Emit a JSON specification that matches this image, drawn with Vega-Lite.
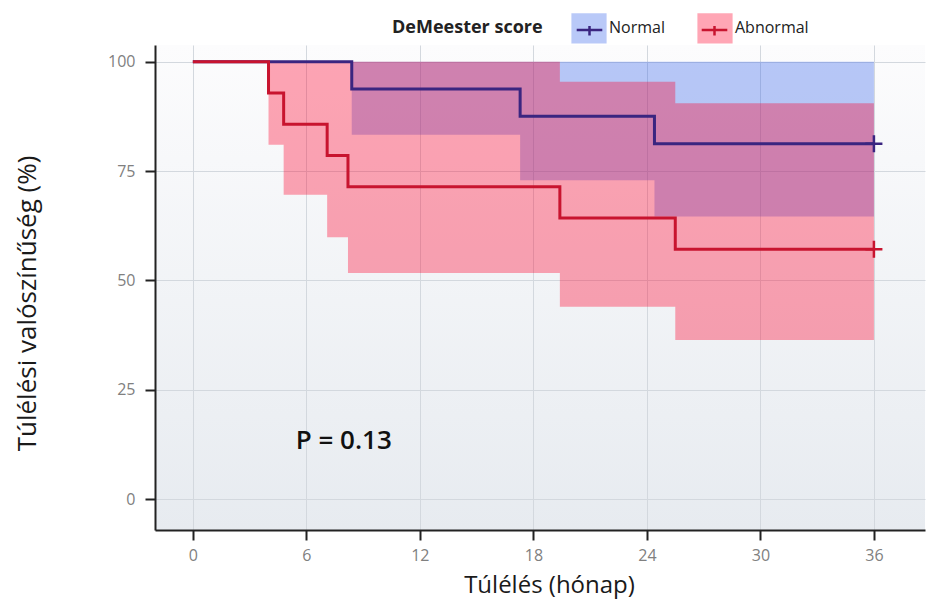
{
  "$schema": "https://vega.github.io/schema/vega-lite/v6.json",
  "autosize": {"type": "none"},
  "width": 770,
  "height": 485,
  "padding": {"left": 155, "top": 45, "right": 16, "bottom": 76},
  "background": "#ffffff",
  "config": {
    "view": {
      "stroke": null,
      "fill": {"gradient": "linear", "x1": 0, "y1": 0, "x2": 0, "y2": 1, "stops": [{"offset": 0, "color": "#fcfcfd"}, {"offset": 1, "color": "#e7ebf0"}]}
    },
    "font": "Open Sans",
    "axis": {
      "domainColor": "#222222",
      "domainWidth": 2,
      "tickColor": "#222222",
      "tickWidth": 2,
      "tickSize": 10,
      "labelFont": "Open Sans",
      "labelFontSize": 16,
      "labelColor": "#808080",
      "labelPadding": 10,
      "gridColor": "#d3d8de",
      "gridWidth": 1,
      "titleFont": "Open Sans",
      "titleFontWeight": "normal",
      "titleColor": "#1a1a1a"
    }
  },
  "datasets": {
    "km": [
      {"group": "Normal", "time": 0, "surv": 100, "lower": 100, "upper": 100},
      {"group": "Normal", "time": 8.4, "surv": 93.75, "lower": 83.3, "upper": 100},
      {"group": "Normal", "time": 17.3, "surv": 87.5, "lower": 72.9, "upper": 100},
      {"group": "Normal", "time": 24.4, "surv": 81.25, "lower": 64.6, "upper": 100},
      {"group": "Normal", "time": 36, "surv": 81.25, "lower": 64.6, "upper": 100},
      {"group": "Abnormal", "time": 0, "surv": 100, "lower": 100, "upper": 100},
      {"group": "Abnormal", "time": 4.0, "surv": 92.86, "lower": 81.0, "upper": 100},
      {"group": "Abnormal", "time": 4.8, "surv": 85.71, "lower": 69.6, "upper": 100},
      {"group": "Abnormal", "time": 7.1, "surv": 78.57, "lower": 59.9, "upper": 100},
      {"group": "Abnormal", "time": 8.2, "surv": 71.43, "lower": 51.7, "upper": 100},
      {"group": "Abnormal", "time": 19.4, "surv": 64.29, "lower": 44.0, "upper": 95.4},
      {"group": "Abnormal", "time": 25.5, "surv": 57.14, "lower": 36.4, "upper": 90.5},
      {"group": "Abnormal", "time": 36, "surv": 57.14, "lower": 36.4, "upper": 90.5}
    ],
    "note": [{"x": 5.44, "y": 13.4, "label": "P = 0.13"}]
  },
  "encoding": {
    "x": {
      "field": "time", "type": "quantitative",
      "scale": {"domain": [-2, 38.7], "nice": false, "zero": false},
      "axis": {"values": [0, 6, 12, 18, 24, 30, 36], "title": "Túlélés (hónap)", "labelPadding": 7, "titleFontSize": 24, "titleX": 394, "titleY": 55, "titleBaseline": "middle", "titleAlign": "center"}
    },
    "y": {
      "field": "surv", "type": "quantitative",
      "scale": {"domain": [-7, 103.8], "nice": false, "zero": false},
      "axis": {"values": [0, 25, 50, 75, 100], "title": "Túlélési valószínűség (%)", "titleFontSize": 26, "titleX": -128, "titleY": 258, "titleAngle": -90, "titleBaseline": "middle", "titleAlign": "center"}
    }
  },
  "layer": [
    {
      "data": {"name": "km"},
      "transform": [{"filter": "datum.group == 'Normal'"}],
      "mark": {"type": "area", "interpolate": "step-after", "opacity": 0.35},
      "encoding": {
        "y": {"field": "lower", "type": "quantitative"},
        "y2": {"field": "upper"},
        "fill": {
          "field": "group", "type": "nominal",
          "scale": {"domain": ["Normal", "Abnormal"], "range": ["#3763eb", "#ff002c"]},
          "legend": {
            "orient": "none", "legendX": 237, "legendY": -33, "direction": "horizontal",
            "title": "DeMeester score", "titleOrient": "left", "titleFontSize": 18, "titleFontWeight": "bold",
            "titleColor": "#222222", "titlePadding": 30, "titleAnchor": "middle", "titleBaseline": "middle",
            "labelFontSize": 16, "labelColor": "#222222", "labelOffset": 4, "columnPadding": 32,
            "symbolType": "M-1.1,-0.95H1.1V0.95H-1.1Z", "symbolSize": 1024, "symbolStrokeWidth": 0
          }
        }
      }
    },
    {
      "data": {"name": "km"},
      "transform": [{"filter": "datum.group == 'Abnormal'"}],
      "mark": {"type": "area", "interpolate": "step-after", "opacity": 0.35},
      "encoding": {
        "y": {"field": "lower", "type": "quantitative"},
        "y2": {"field": "upper"},
        "fill": {"field": "group", "type": "nominal"}
      }
    },
    {
      "data": {"name": "km"},
      "transform": [{"filter": "datum.group == 'Normal'"}],
      "mark": {"type": "line", "interpolate": "step-after", "strokeWidth": 3},
      "encoding": {
        "stroke": {
          "field": "group", "type": "nominal", "sort": ["Normal", "Abnormal"],
          "scale": {"range": ["#3a2580", "#c8142f"]},
          "legend": {
            "orient": "none", "legendX": 417, "legendY": -33, "direction": "horizontal",
            "title": null, "labelExpr": "''", "labelFontSize": 16, "labelOffset": 4, "columnPadding": 85,
            "symbolType": "M-0.8,0H0.8M0,-0.25V0.35", "symbolSize": 1024, "symbolStrokeWidth": 2.5,
            "symbolFillColor": "transparent"
          }
        }
      }
    },
    {
      "data": {"name": "km"},
      "transform": [{"filter": "datum.group == 'Abnormal'"}],
      "mark": {"type": "line", "interpolate": "step-after", "strokeWidth": 3},
      "encoding": {
        "stroke": {"field": "group", "type": "nominal", "sort": ["Normal", "Abnormal"]}
      }
    },
    {
      "data": {"name": "km"},
      "transform": [{"filter": "datum.time == 36"}],
      "mark": {"type": "point", "shape": "M-1,0H1M0,-1V1", "size": 289, "filled": false, "strokeWidth": 2.5, "opacity": 1},
      "encoding": {
        "stroke": {"field": "group", "type": "nominal", "sort": ["Normal", "Abnormal"]}
      }
    },
    {
      "data": {"name": "note"},
      "mark": {"type": "text", "align": "left", "baseline": "middle", "fontSize": 26, "fontWeight": 600, "font": "Open Sans", "color": "#111111"},
      "encoding": {
        "x": {"field": "x", "type": "quantitative"},
        "y": {"field": "y", "type": "quantitative"},
        "text": {"field": "label"}
      }
    }
  ]
}
